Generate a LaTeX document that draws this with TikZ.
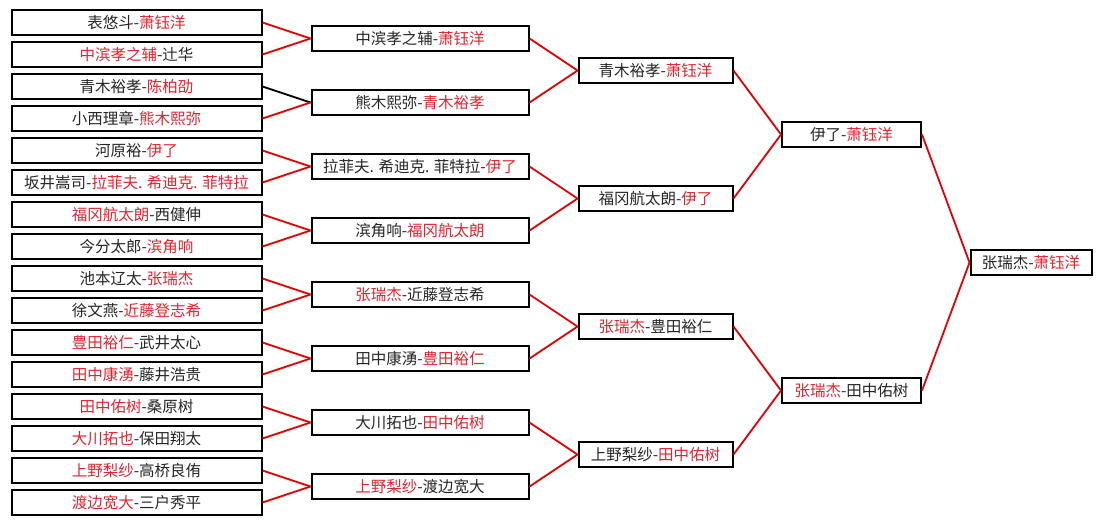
\documentclass[tikz,border=0pt]{standalone}
\usepackage{fontspec}
\newfontfamily\cjk{Noto Sans CJK SC}
\definecolor{wincol}{RGB}{226,36,48}
\definecolor{linecol}{RGB}{228,0,0}
\newcommand\W[1]{\textcolor{wincol}{#1}}
\tikzset{
  bx/.style={draw=black, line width=2pt, minimum height=25pt, inner sep=0pt, fill=white,
    font=\cjk\fontsize{15.5}{16}\selectfont, text=black!85},
  c1/.style={bx, minimum width=250pt},
  c2/.style={bx, minimum width=217pt},
  c3/.style={bx, minimum width=154pt},
  c4/.style={bx, minimum width=139pt},
  c5/.style={bx, minimum width=121pt},
  rl/.style={draw=linecol, line width=1.8pt},
  bl/.style={draw=black, line width=1.8pt},
}
\begin{document}
\begin{tikzpicture}[x=1pt,y=-1pt]
\useasboundingbox[fill=white] (0,0) rectangle (1103,525);
% column 1
\node[c1] (a1)  at (136.5,22.5)  {表悠斗-\W{萧钰洋}};
\node[c1] (a2)  at (136.5,54.5)  {\W{中滨孝之辅}-辻华};
\node[c1] (a3)  at (136.5,86.5)  {青木裕孝-\W{陈柏劭}};
\node[c1] (a4)  at (136.5,118.5) {小西理章-\W{熊木熙弥}};
\node[c1] (a5)  at (136.5,150.5) {河原裕-\W{伊了}};
\node[c1] (a6)  at (136.5,182.5) {坂井嵩司-\W{拉菲夫. 希迪克. 菲特拉}};
\node[c1] (a7)  at (136.5,214.5) {\W{福冈航太朗}-西健伸};
\node[c1] (a8)  at (136.5,246.5) {今分太郎-\W{滨角响}};
\node[c1] (a9)  at (136.5,278.5) {池本辽太-\W{张瑞杰}};
\node[c1] (a10) at (136.5,310.5) {徐文燕-\W{近藤登志希}};
\node[c1] (a11) at (136.5,342.5) {\W{豊田裕仁}-武井太心};
\node[c1] (a12) at (136.5,374.5) {\W{田中康湧}-藤井浩贵};
\node[c1] (a13) at (136.5,406.5) {\W{田中佑树}-桑原树};
\node[c1] (a14) at (136.5,438.5) {\W{大川拓也}-保田翔太};
\node[c1] (a15) at (136.5,470.5) {\W{上野梨纱}-高桥良侑};
\node[c1] (a16) at (136.5,502.5) {\W{渡边宽大}-三户秀平};
% column 2
\node[c2] (b1) at (420,38.5)  {中滨孝之辅-\W{萧钰洋}};
\node[c2] (b2) at (420,102.5) {熊木熙弥-\W{青木裕孝}};
\node[c2] (b3) at (420,166.5) {拉菲夫. 希迪克. 菲特拉-\W{伊了}};
\node[c2] (b4) at (420,230.5) {滨角响-\W{福冈航太朗}};
\node[c2] (b5) at (420,294.5) {\W{张瑞杰}-近藤登志希};
\node[c2] (b6) at (420,358.5) {田中康湧-\W{豊田裕仁}};
\node[c2] (b7) at (420,422.5) {大川拓也-\W{田中佑树}};
\node[c2] (b8) at (420,486.5) {\W{上野梨纱}-渡边宽大};
% column 3
\node[c3] (c1) at (655.5,70.5)  {青木裕孝-\W{萧钰洋}};
\node[c3] (c2) at (655.5,198.5) {福冈航太朗-\W{伊了}};
\node[c3] (c3) at (655.5,326.5) {\W{张瑞杰}-豊田裕仁};
\node[c3] (c4) at (655.5,454.5) {上野梨纱-\W{田中佑树}};
% column 4
\node[c4] (d1) at (851.5,134.5) {伊了-\W{萧钰洋}};
\node[c4] (d2) at (851.5,390.5) {\W{张瑞杰}-田中佑树};
% column 5
\node[c5] (e1) at (1031,262.5) {张瑞杰-\W{萧钰洋}};
% connectors
\draw[rl] (a1.east) -- (b1.west);
\draw[rl] (a2.east) -- (b1.west);
\draw[bl] (a3.east) -- (b2.west);
\draw[rl] (a4.east) -- (b2.west);
\draw[rl] (a5.east) -- (b3.west);
\draw[rl] (a6.east) -- (b3.west);
\draw[rl] (a7.east) -- (b4.west);
\draw[rl] (a8.east) -- (b4.west);
\draw[rl] (a9.east) -- (b5.west);
\draw[rl] (a10.east) -- (b5.west);
\draw[rl] (a11.east) -- (b6.west);
\draw[rl] (a12.east) -- (b6.west);
\draw[rl] (a13.east) -- (b7.west);
\draw[rl] (a14.east) -- (b7.west);
\draw[rl] (a15.east) -- (b8.west);
\draw[rl] (a16.east) -- (b8.west);
\draw[rl] (b1.east) -- (c1.west);
\draw[rl] (b2.east) -- (c1.west);
\draw[rl] (b3.east) -- (c2.west);
\draw[rl] (b4.east) -- (c2.west);
\draw[rl] (b5.east) -- (c3.west);
\draw[rl] (b6.east) -- (c3.west);
\draw[rl] (b7.east) -- (c4.west);
\draw[rl] (b8.east) -- (c4.west);
\draw[rl] (c1.east) -- (d1.west);
\draw[rl] (c2.east) -- (d1.west);
\draw[rl] (c3.east) -- (d2.west);
\draw[rl] (c4.east) -- (d2.west);
\draw[rl] (d1.east) -- (e1.west);
\draw[rl] (d2.east) -- (e1.west);
\end{tikzpicture}
\end{document}
